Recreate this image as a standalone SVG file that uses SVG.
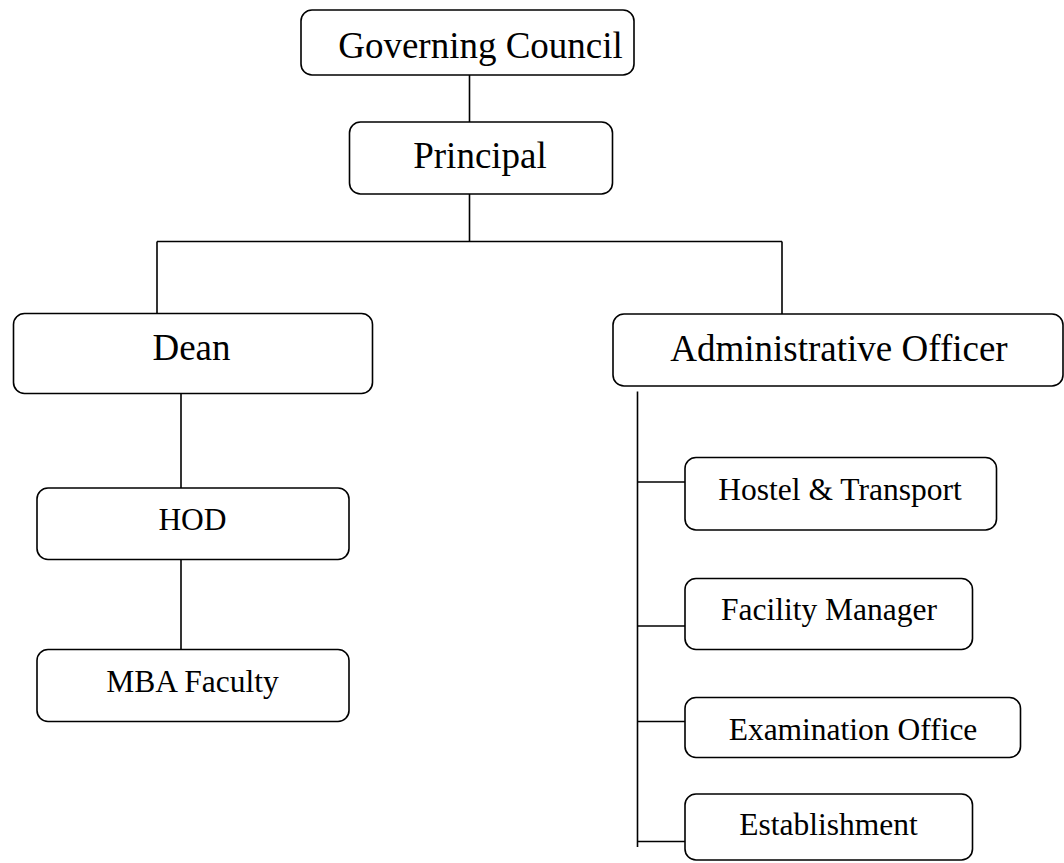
<svg xmlns="http://www.w3.org/2000/svg" width="1064" height="863" viewBox="0 0 1064 863">
<style>
.box{fill:#fff;stroke:#000;stroke-width:1.6}
.big{font-family:"Liberation Serif","Times New Roman",serif;font-size:37px;fill:#000;text-anchor:middle}
.small{font-family:"Liberation Serif","Times New Roman",serif;font-size:31.5px;fill:#000;text-anchor:middle}
.conn{stroke:#000;stroke-width:1.6;fill:none}
</style>
<rect width="1064" height="863" fill="#fff"/>
<g id="connectors" class="conn">
<line x1="469.5" y1="75" x2="469.5" y2="122"/>
<line x1="469.5" y1="194" x2="469.5" y2="241.5"/>
<line x1="157" y1="241.5" x2="782" y2="241.5"/>
<line x1="157" y1="241.5" x2="157" y2="313.5"/>
<line x1="782" y1="241.5" x2="782" y2="314"/>
<line x1="181" y1="393.5" x2="181" y2="488"/>
<line x1="181" y1="559.5" x2="181" y2="649.5"/>
<line x1="637.5" y1="391.5" x2="637.5" y2="847"/>
<line x1="637.5" y1="482" x2="685" y2="482"/>
<line x1="637.5" y1="626" x2="685" y2="626"/>
<line x1="637.5" y1="721.5" x2="685" y2="721.5"/>
<line x1="637.5" y1="841.5" x2="685" y2="841.5"/>
</g>
<g id="governing-council"><rect class="box" x="301" y="10" width="333" height="65" rx="11"/><text class="big" x="480.5" y="58">Governing Council</text></g>
<g id="principal"><rect class="box" x="349.5" y="122" width="263" height="72" rx="11"/><text class="big" x="480" y="168">Principal</text></g>
<g id="dean"><rect class="box" x="13.5" y="313.5" width="359" height="80" rx="11"/><text class="big" x="191.5" y="360">Dean</text></g>
<g id="admin-officer"><rect class="box" x="613" y="314" width="450" height="72" rx="11"/><text class="big" x="839" y="360.5">Administrative Officer</text></g>
<g id="hod"><rect class="box" x="37" y="488" width="312" height="71.5" rx="11"/><text class="small" x="192.5" y="530">HOD</text></g>
<g id="mba-faculty"><rect class="box" x="37" y="649.5" width="312" height="72" rx="11"/><text class="small" x="192.5" y="691.5">MBA Faculty</text></g>
<g id="hostel-transport"><rect class="box" x="685" y="457.5" width="311.5" height="72.5" rx="11"/><text class="small" x="840" y="500">Hostel &amp; Transport</text></g>
<g id="facility-manager"><rect class="box" x="685" y="578.5" width="287.5" height="71" rx="11"/><text class="small" x="829" y="620">Facility Manager</text></g>
<g id="examination-office"><rect class="box" x="685" y="697.5" width="335.5" height="60" rx="11"/><text class="small" x="853" y="740">Examination Office</text></g>
<g id="establishment"><rect class="box" x="685" y="794" width="287.5" height="66" rx="11"/><text class="small" x="828.5" y="835">Establishment</text></g>
</svg>
